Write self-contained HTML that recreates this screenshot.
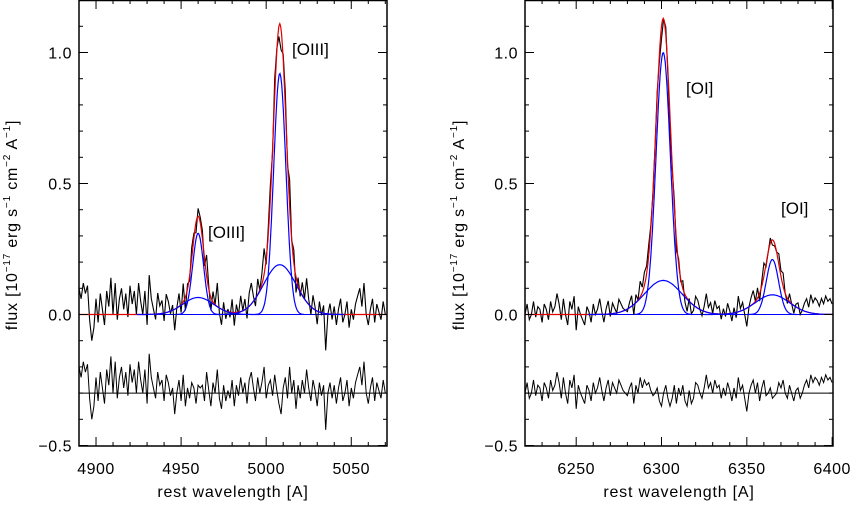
<!DOCTYPE html>
<html><head><meta charset="utf-8"><style>
body{margin:0;background:#fff;width:853px;height:502px;overflow:hidden}
svg text{font-family:"Liberation Sans",sans-serif;fill:#000}
</style></head><body>
<svg id="chart" width="853" height="502" viewBox="0 0 853 502" xmlns="http://www.w3.org/2000/svg"></svg>
<script>
// Left panel: [OIII] 4959/5007 fit components (amp, center, sigma)
const leftNarrow = [[0.31, 4960, 3.2], [0.92, 5008, 3.6]];
const leftBroad = [[0.065, 4960, 9], [0.19, 5008, 9.5]];
const leftXTicks = [4900, 4950, 5000, 5050];
// Right panel: [OI] 6300/6364
const rightNarrow = [[1.0, 6301, 4.2], [0.21, 6365, 3.6]];
const rightBroad = [[0.13, 6301, 11], [0.075, 6365, 10]];
const rightXTicks = [6250, 6300, 6350, 6400];
const yTicks = [-0.5, 0.0, 0.5, 1.0];
const leftNoise = [0.1,0.06,0.12,0.08,0.11,-0.02,-0.1,-0.05,0.06,-0.03,0.08,0.02,-0.04,0.09,0.03,0.14,0.0,0.12,-0.02,0.06,0.1,0.02,0.08,-0.01,0.11,0.04,0.09,0.0,0.12,0.05,0.0,0.09,-0.04,0.15,0.06,0.02,-0.02,0.08,0.03,0.05,-0.03,0.07,0.04,-0.01,0.02,-0.08,0.0,0.05,-0.03,0.07,-0.05,0.02,-0.02,0.04,0.02,-0.04,0.03,0.02,0.03,-0.03,0.08,0.01,-0.05,0.04,0.0,0.09,-0.02,-0.06,0.03,-0.03,0.01,-0.02,0.05,-0.05,0.03,-0.01,0.06,0.0,0.04,-0.04,0.05,0.08,0.02,-0.03,0.06,0.0,0.04,0.1,-0.02,0.03,0.05,-0.01,0.07,0.01,-0.04,-0.08,0.02,0.06,-0.02,0.1,0.0,0.05,-0.06,0.03,-0.02,0.05,0.0,0.09,0.02,-0.03,0.05,0.01,-0.05,0.04,-0.01,0.03,-0.14,0.0,0.04,-0.02,0.03,-0.04,0.02,0.06,-0.03,0.0,0.05,-0.05,0.02,-0.02,0.04,0.07,0.1,0.03,0.12,0.0,-0.04,0.02,0.06,-0.03,0.04,0.01,-0.02,0.05,0.0];
const rightNoise = [0.0,0.04,-0.02,0.0,0.05,-0.01,0.03,0.02,-0.03,0.04,0.02,-0.02,0.05,0.01,0.03,0.08,0.04,-0.02,0.06,0.0,-0.04,0.05,0.02,0.07,-0.06,0.03,0.0,-0.02,-0.04,0.03,0.01,-0.03,0.04,0.0,0.02,0.06,0.01,-0.03,0.02,0.05,-0.01,0.04,0.02,0.0,0.05,0.03,0.01,0.0,-0.01,0.02,0.04,-0.04,0.03,0.0,0.06,0.02,0.05,0.03,0.04,0.01,-0.01,0.0,0.02,-0.03,-0.05,0.0,0.03,-0.02,-0.05,-0.02,0.03,-0.04,0.02,-0.01,0.03,-0.03,-0.05,0.01,-0.04,-0.02,0.04,0.03,0.0,-0.02,0.02,0.07,0.02,0.04,0.0,0.05,0.02,0.03,-0.02,0.02,-0.01,0.04,0.01,-0.03,0.02,-0.02,0.06,0.01,0.03,-0.02,-0.07,0.0,0.03,0.05,0.0,0.04,-0.03,0.02,0.05,-0.01,0.0,0.02,-0.02,-0.01,0.0,0.04,0.02,0.05,0.0,-0.02,0.03,0.0,-0.03,0.01,0.02,-0.02,0.0,0.03,0.05,0.02,0.07,0.04,0.06,0.05,0.03,0.06,0.04,0.07,0.05,0.06,0.04];

const svg = document.getElementById('chart');
const NS = 'http://www.w3.org/2000/svg';
function mk(tag, attrs, parent) {
  const e = document.createElementNS(NS, tag);
  for (const k in attrs) e.setAttribute(k, attrs[k]);
  (parent || svg).appendChild(e);
  return e;
}
function gauss(list, x) { let s = 0; for (const g of list) s += g[0] * Math.exp(-0.5 * ((x - g[1]) / g[2]) ** 2); return s; }

function panel(cfg) {
  const g = mk('g', {});
  
  
  const L = cfg.x0, R = cfg.x1, T = 0, B = 446;
  const xs = v => L + (v - cfg.xmin) / (cfg.xmax - cfg.xmin) * (R - L);
  const ys = v => 314.5 - v * 262;
  const clip = 'clip-' + cfg.name;
  const cp = mk('clipPath', { id: clip }, g); mk('rect', { x: L, y: T, width: R - L, height: B - T }, cp);
  const plot = mk('g', { 'clip-path': 'url(#' + clip + ')' }, g);
  const step = 1.25;
  const n = cfg.noise.length;
  let obs = '', res = '';
  for (let i = 0; i < n; i++) {
    const w = cfg.xmin + i * step;
    const m = gauss(cfg.narrow, w) + gauss(cfg.broad, w);
    const v = m + cfg.noise[i];
    obs += (i ? 'L' : 'M') + xs(w).toFixed(1) + ' ' + ys(v).toFixed(1);
    res += (i ? 'L' : 'M') + xs(w).toFixed(1) + ' ' + ys(cfg.noise[i] - 0.3).toFixed(1);
  }
  const curve = (f, a, b) => { let d = ''; for (let w = a; w <= b; w += 0.5) d += (d ? 'L' : 'M') + xs(w).toFixed(1) + ' ' + ys(f(w)).toFixed(1); return d; };
  const zero = mk('line', { x1: xs(cfg.bstart), x2: R, y1: ys(0), y2: ys(0), stroke: '#0000ff', 'stroke-width': 1 }, plot);
  
  
  const o = mk('path', { d: obs, fill: 'none', stroke: '#000', 'stroke-width': 1.1 }, plot);
  
  
  const tot = mk('path', { d: curve(w => gauss(cfg.narrow, w) + gauss(cfg.broad, w), cfg.xmin, cfg.xmax), fill: 'none', stroke: '#e00000', 'stroke-width': 1.2 }, plot);
  
  
  for (const c of cfg.narrow.concat(cfg.broad)) {
    const p = mk('path', { d: curve(w => gauss([c], w), c[1] - 4 * c[2], c[1] + 4 * c[2]), fill: 'none', stroke: '#0000ff', 'stroke-width': 1.2 }, plot);
    
    
  }
  const r = mk('path', { d: res, fill: 'none', stroke: '#000', 'stroke-width': 1 }, plot);
  
  
  const rl = mk('line', { x1: L, x2: R, y1: ys(-0.3), y2: ys(-0.3), stroke: '#000', 'stroke-width': 1 }, plot);
  
  
  mk('rect', { x: L, y: T + 0.5, width: R - L, height: B - T - 0.5, fill: 'none', stroke: '#000', 'stroke-width': 1.5 }, g);
  for (let v = Math.ceil(cfg.xmin / 10) * 10; v <= cfg.xmax; v += 10) {
    const len = v % 50 === 0 ? 9 : 4, x = xs(v);
    mk('line', { x1: x, x2: x, y1: B, y2: B - len, stroke: '#000' }, g);
    mk('line', { x1: x, x2: x, y1: T, y2: T + len, stroke: '#000' }, g);
  }
  for (const v of cfg.xticks) {
    const t = mk('text', { x: xs(v), y: 474, 'text-anchor': 'middle', 'font-size': 16, 'letter-spacing': 0.5 }, g);
    t.textContent = v;
    
    
  }
  for (let k = -5; k <= 12; k++) {
    const v = k / 10, y = ys(v), len = k % 5 === 0 ? 9 : 4;
    mk('line', { x1: L, x2: L + len, y1: y, y2: y, stroke: '#000' }, g);
    mk('line', { x1: R, x2: R - len, y1: y, y2: y, stroke: '#000' }, g);
  }
  for (const v of yTicks) {
    const t = mk('text', { x: L - 7, y: ys(v) + 6, 'text-anchor': 'end', 'font-size': 16, 'letter-spacing': 0.5 }, g);
    t.textContent = v < 0 ? '\u22120.5' : v.toFixed(1);
    
    
  }
  const xt = mk('text', { x: (L + R) / 2, y: 497, 'text-anchor': 'middle', 'font-size': 16, 'letter-spacing': 0.8 }, g);
  xt.textContent = 'rest wavelength [A]';
  
  
  const yt = mk('text', { transform: 'translate(' + cfg.ylx + ',' + cfg.yly + ') rotate(-90)', 'text-anchor': 'middle', 'font-size': 16, 'letter-spacing': 0.8 }, g);
  yt.innerHTML = 'flux [10<tspan dy="-7" font-size="10">\u221217</tspan><tspan dy="7"> erg s</tspan><tspan dy="-7" font-size="10">\u22121</tspan><tspan dy="7"> cm</tspan><tspan dy="-7" font-size="10">\u22122</tspan><tspan dy="7"> A</tspan><tspan dy="-7" font-size="10">\u22121</tspan><tspan dy="7">]</tspan>';
  
  
  for (const lb of cfg.labels) {
    const t = mk('text', { x: lb[1], y: lb[2], 'font-size': 17 }, g);
    t.textContent = lb[0];
    
    
  }
}
panel({ name: 'oiii-panel', x0: 79, x1: 387, xmin: 4890, xmax: 5071, xticks: leftXTicks, narrow: leftNarrow, broad: leftBroad, noise: leftNoise, bstart: 4935, ylx: 17, yly: 225, labels: [['[OIII]', 292, 55], ['[OIII]', 208, 238]] });
panel({ name: 'oi-panel', x0: 525, x1: 833, xmin: 6220, xmax: 6400.5, xticks: rightXTicks, narrow: rightNarrow, broad: rightBroad, noise: rightNoise, bstart: 6265, ylx: 464, yly: 225, labels: [['[OI]', 686, 94], ['[OI]', 781, 214]] });
</script>
</body></html>
